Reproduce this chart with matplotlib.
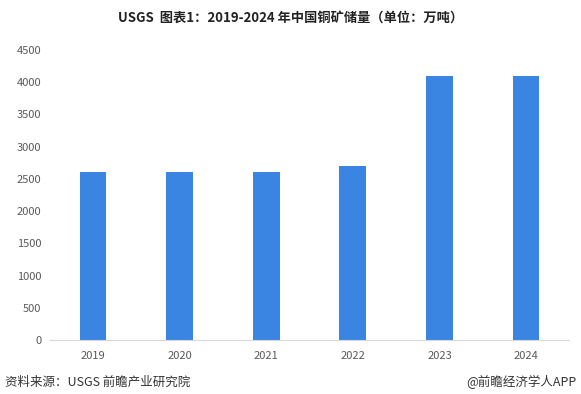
import matplotlib
matplotlib.use("Agg")
import matplotlib.pyplot as plt

years = ["2019", "2020", "2021", "2022", "2023", "2024"]
reserves = [2600, 2600, 2600, 2700, 4100, 4100]
yticks = [0, 500, 1000, 1500, 2000, 2500, 3000, 3500, 4000, 4500]

plt.rcParams['font.family'] = ['Noto Sans CJK SC', 'DejaVu Sans']

fig = plt.figure(figsize=(5.81, 3.94), dpi=100)
ax = fig.add_axes([0.0854, 0.137, 0.8946, 0.736])
x = list(range(len(years)))
ax.bar(x, reserves, width=0.31, color='#3A84E2')
ax.set_xlim(-0.5, len(years) - 0.5)
ax.set_ylim(0, 4500)
ax.set_yticks(yticks)
ax.set_yticklabels([str(v) for v in yticks])
ax.set_xticks(x)
ax.set_xticklabels(years)
for s in ['top', 'right', 'left']:
    ax.spines[s].set_visible(False)
ax.spines['bottom'].set_color('#D9D9D9')
ax.tick_params(axis='both', length=0, labelsize=8, labelcolor='#595959')
ax.tick_params(axis='x', pad=8)
ax.tick_params(axis='y', pad=6)

fig.text(0.5, 0.955, "USGS  图表1：2019-2024 年中国铜矿储量（单位：万吨）",
         ha='center', va='center', fontsize=9.5, fontweight='bold', color='#222222')
fig.text(0.008, 0.03, "资料来源：USGS 前瞻产业研究院", ha='left', va='center',
         fontsize=9, color='#333333')
fig.text(0.993, 0.03, "@前瞻经济学人APP", ha='right', va='center',
         fontsize=9, color='#333333')

fig.savefig("out.png", dpi=100)
